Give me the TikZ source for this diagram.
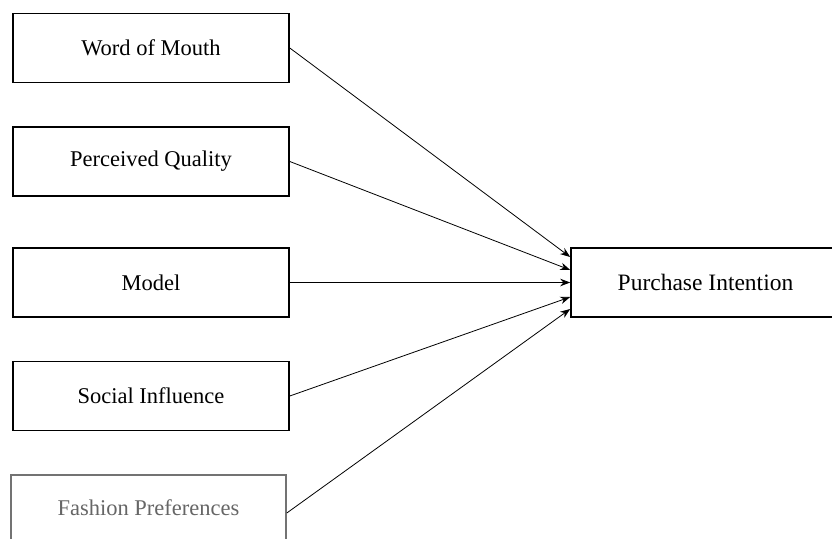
\documentclass[tikz,border=0pt]{standalone}
\usepackage{fontspec}
\setmainfont{Liberation Serif}
\usetikzlibrary{arrows.meta}
\begin{document}
\begin{tikzpicture}[x=1pt,y=-1pt,
  factor/.style={draw=black,line width=1.6pt,rectangle,minimum width=276pt,
    minimum height=69pt,inner sep=0pt,font=\fontsize{22.5}{27}\selectfont},
  faded/.style={draw=black!55,text=black!60},
  link/.style={line width=0.8pt,-{Stealth[length=10pt,width=7.5pt]}}]
\clip (0,0) rectangle (832,538);
\useasboundingbox (0,0) rectangle (832,538);
\fill[white] (0,0) rectangle (832,538);
% predictors
\node[factor] (wom) at (151,48) {Word of Mouth};
\node[factor] (pq) at (151,161.5) {Perceived Quality};
\node[factor] (mod) at (151,282.5) {Model};
\node[factor] (si) at (151,396) {Social Influence};
\node[factor,faded,minimum width=275pt,minimum height=70pt,
  text depth=0pt] (fp) at (148.5,510) {\raisebox{5pt}{Fashion Preferences}};
% outcome
\node[factor,minimum width=279pt] (pi) at (710.5,282.5) {};
\node[font=\fontsize{23.5}{28}\selectfont,anchor=center] (pilabel) at (705.5,282.5) {Purchase Intention};
% paths
\draw[link] (wom.east) -- ([yshift=25.5pt]pi.west);
\draw[link] (pq.east) -- ([yshift=12.5pt]pi.west);
\draw[link] (mod.east) -- (pi.west);
\draw[link] (si.east) -- ([yshift=-14.5pt]pi.west);
\draw[link] ([yshift=-3pt]fp.east) -- ([yshift=-26.5pt]pi.west);
\end{tikzpicture}
\end{document}
